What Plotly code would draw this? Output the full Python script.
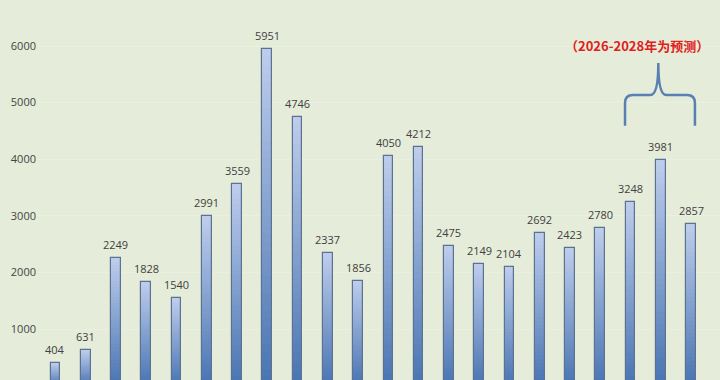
import plotly.graph_objects as go

years = [2007, 2008, 2009, 2010, 2011, 2012, 2013, 2014, 2015, 2016, 2017,
         2018, 2019, 2020, 2021, 2022, 2023, 2024, 2025, 2026, 2027, 2028]
values = [404, 631, 2249, 1828, 1540, 2991, 3559, 5951, 4746, 2337, 1856,
          4050, 4212, 2475, 2149, 2104, 2692, 2423, 2780, 3248, 3981, 2857]
y_ticks = [1000, 2000, 3000, 4000, 5000, 6000]
note = "（2026-2028年为预测）"
forecast_years = [2026, 2027, 2028]

top_rgb = (190, 205, 236)
bot_rgb = (72, 116, 178)
N = 40
BW = 0.32

fig = go.Figure()
for k in range(N):
    t = (k + 0.5) / N  # 0 bottom -> 1 top
    c = tuple(int(round(bot_rgb[i] + (top_rgb[i] - bot_rgb[i]) * t)) for i in range(3))
    fig.add_trace(go.Bar(
        x=years,
        y=[v / N for v in values],
        base=[v * k / N for v in values],
        width=BW,
        marker=dict(color="rgb(%d,%d,%d)" % c, line=dict(width=0)),
        hoverinfo="skip",
        showlegend=False,
    ))

fig.add_trace(go.Bar(
    x=years, y=values, width=BW,
    marker=dict(color="rgba(0,0,0,0)", line=dict(color="#5d7191", width=1.2)),
    showlegend=False,
))

for xv, v in zip(years, values):
    fig.add_annotation(x=xv, y=v, xref="x", yref="y", text=str(v),
                       showarrow=False, yanchor="bottom", yshift=4,
                       font=dict(family="Open Sans", size=11, color="#404040"))

# brace over the forecast bars
x0 = forecast_years[0] - 0.18
x2 = forecast_years[-1] + 0.13
xm = forecast_years[1] - 0.08
yb, ymid, ytop = 4590, 5135, 5700
dx, dy = 0.26, 140
path = (f"M {x0},{yb} L {x0},{ymid - dy} Q {x0},{ymid} {x0 + dx},{ymid} "
        f"L {xm - dx},{ymid} Q {xm},{ymid} {xm},{ytop} "
        f"Q {xm},{ymid} {xm + dx},{ymid} L {x2 - dx},{ymid} "
        f"Q {x2},{ymid} {x2},{ymid - dy} L {x2},{yb}")
fig.add_shape(type="path", path=path, xref="x", yref="y",
              line=dict(color="#5a80b3", width=2.5))

fig.add_annotation(x=forecast_years[1] - 0.8, y=6010, xref="x", yref="y",
                   text="<b>" + note + "</b>", showarrow=False,
                   font=dict(family="Noto Sans CJK SC", size=13, color="#e0201c"))

fig.update_layout(
    width=720, height=380,
    margin=dict(l=37, r=0, t=0, b=0),
    paper_bgcolor="#e5ecd9",
    plot_bgcolor="#e5ecd9",
    barmode="overlay",
    bargap=0,
    xaxis=dict(range=[years[0] - 0.61, years[-1] + 0.958], showgrid=False,
               showticklabels=False, zeroline=False, showline=False),
    yaxis=dict(range=[99, 6813], tickvals=y_ticks, showgrid=True,
               gridcolor="#e9f0df", gridwidth=1, zeroline=False,
               tickfont=dict(family="Open Sans", size=11, color="#444"),
               ticks="", showline=False),
)

fig.write_html("out.html")
